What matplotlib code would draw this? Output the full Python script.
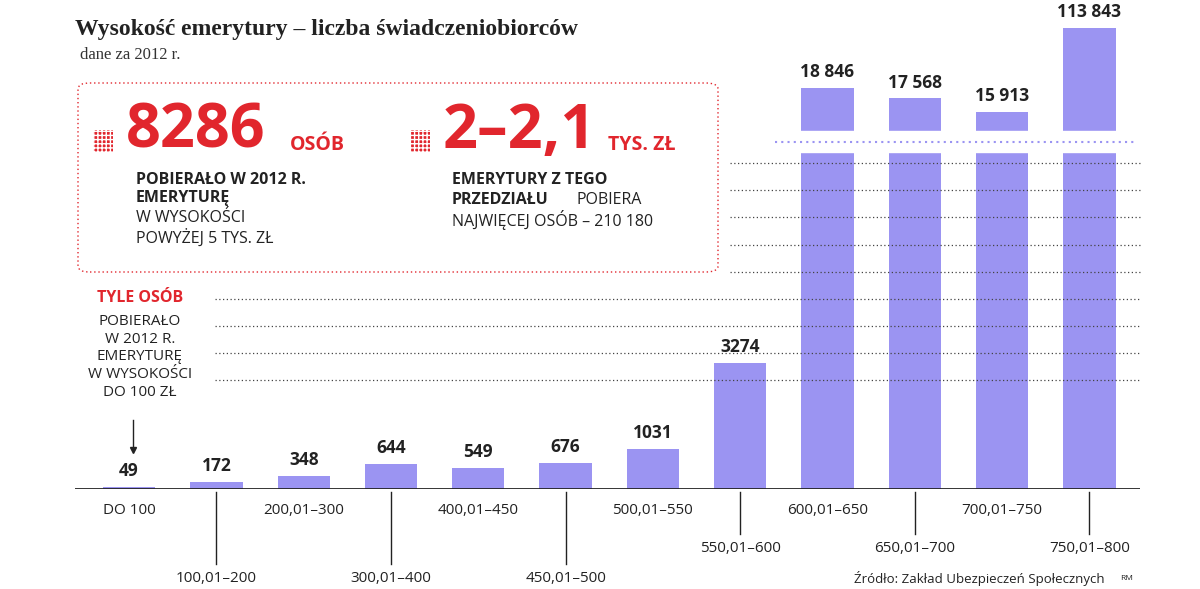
import numpy as np
import matplotlib
matplotlib.use("Agg")
import matplotlib.pyplot as plt
from matplotlib.patches import FancyBboxPatch, Rectangle

categories = ["DO 100", "100,01–200", "200,01–300", "300,01–400", "400,01–450", "450,01–500",
              "500,01–550", "550,01–600", "600,01–650", "650,01–700", "700,01–750", "750,01–800"]
values = [49, 172, 348, 644, 549, 676, 1031, 3274, 18846, 17568, 15913, 113843]
value_labels = ["49", "172", "348", "644", "549", "676", "1031", "3274", "18 846", "17 568", "15 913", "113 843"]
label_rows = [0, 2, 0, 2, 0, 2, 0, 1, 0, 1, 0, 1]  # 0: just below axis, 1: middle, 2: low

W, H = 1200, 589
PURPLE = "#9b94f2"
RED = "#e1262d"
FONT = "Open Sans"

# piecewise scale (broken axis)
_v = np.array([0, 5000, 15913, 18846, 113843, 150000], float)
_p = np.array([0, 192, 377, 401, 461, 489], float)
def fwd(v): return np.interp(v, _v, _p)
def inv(p): return np.interp(p, _p, _v)

fig = plt.figure(figsize=(W / 100, H / 100), dpi=100)
def fx(x): return x / W
def fy(y): return 1 - y / H

ax = fig.add_axes([75 / W, (H - 489) / H, (1140 - 75) / W, 489 / H])
ax.set_yscale("function", functions=(fwd, inv))
ax.set_ylim(0, 150000)
ax.set_xlim(-0.62, 11.58)
ax.axis("off")
x = np.arange(len(values))
ax.bar(x, values, width=0.6, color=PURPLE, zorder=2)
for i, (v, lab) in enumerate(zip(values, value_labels)):
    ax.annotate(lab, (i, v), xytext=(0, 5), textcoords="offset points", ha="center",
                va="bottom", fontsize=12.5, fontweight="bold", family=FONT, color="#222", zorder=5)
ax.axhline(0, color="#222", lw=2, zorder=4)

# dotted grid lines (figure pixel positions)
for yy in [163, 190, 217, 245, 272, 299, 326, 353, 380]:
    x0 = 730 if yy < 280 else 215
    fig.add_artist(plt.Line2D([fx(x0), fx(1140)], [fy(yy), fy(yy)], color="#444",
                              lw=0.9, ls=(0, (1, 2)), zorder=1))
# axis break
fig.add_artist(Rectangle((fx(770), fy(152)), fx(1140) - fx(770), fy(131) - fy(152),
                         color="white", zorder=3))
fig.add_artist(plt.Line2D([fx(775), fx(1135)], [fy(142), fy(142)], color=PURPLE,
                          lw=1.5, ls=(0, (1, 2)), zorder=4))

# category labels
for i, (c, r) in enumerate(zip(categories, label_rows)):
    xd = ax.transData.transform((i, 0))[0]
    if r == 0:
        fig.text(xd / W, fy(510), c, ha="center", va="center", fontsize=11, family=FONT, color="#222")
    else:
        ylab = 578 if r == 2 else 548
        fig.add_artist(plt.Line2D([xd / W, xd / W], [fy(492), fy(ylab - 14)], color="#222", lw=1))
        fig.text(xd / W, fy(ylab), c, ha="center", va="center", fontsize=11, family=FONT, color="#222")

# title
fig.text(fx(75), fy(30), "Wysokość emerytury – liczba świadczeniobiorców", fontsize=17,
         fontweight="bold", family="Liberation Serif", color="#222", va="center")
fig.text(fx(80), fy(55), "dane za 2012 r.", fontsize=12, family="Liberation Serif", color="#333", va="center")

# info box
fig.add_artist(FancyBboxPatch((fx(78), fy(272)), fx(718) - fx(78), fy(83) - fy(272),
                              boxstyle="round,pad=0,rounding_size=0.01", fill=False,
                              ec=RED, lw=1, ls=(0, (1, 2)), zorder=1))
for x0 in [93, 410]:
    fig.add_artist(Rectangle((fx(x0), fy(152)), 20 / W, 22 / H, color=RED, hatch="++++",
                             ec="white", lw=0))
fig.text(fx(126), fy(132), "8286", fontsize=44, fontweight="bold", family=FONT, color=RED, va="center")
fig.text(fx(290), fy(145), "OSÓB", fontsize=14, fontweight="bold", family=FONT, color=RED, va="center")
fig.text(fx(443), fy(132), "2–2,1", fontsize=44, fontweight="bold", family=FONT, color=RED, va="center")
fig.text(fx(608), fy(145), "TYS. ZŁ", fontsize=14, fontweight="bold", family=FONT, color=RED, va="center")
fig.text(fx(136), fy(172), "POBIERAŁO W 2012 R.\nEMERYTURĘ", fontsize=11.5, fontweight="bold",
         family=FONT, color="#222", va="top", linespacing=1.2)
fig.text(fx(136), fy(210), "W WYSOKOŚCI\nPOWYŻEJ 5 TYS. ZŁ", fontsize=11.5, family=FONT,
         color="#222", va="top", linespacing=1.2)
fig.text(fx(452), fy(172), "EMERYTURY Z TEGO", fontsize=11.5, fontweight="bold",
         family=FONT, color="#222", va="top")
fig.text(fx(452), fy(204), "PRZEDZIAŁU", fontsize=11.5, fontweight="bold",
         family=FONT, color="#222", va="baseline")
fig.text(fx(576), fy(204), "POBIERA", fontsize=11.5, family=FONT, color="#222", va="baseline")
fig.text(fx(452), fy(210), "NAJWIĘCEJ OSÓB – 210 180", fontsize=11.5, family=FONT, color="#222", va="top")

# left note
fig.text(fx(140), fy(298), "TYLE OSÓB", fontsize=11.5, fontweight="bold", family=FONT,
         color=RED, ha="center", va="center")
fig.text(fx(140), fy(314), "POBIERAŁO\nW 2012 R.\nEMERYTURĘ\nW WYSOKOŚCI\nDO 100 ZŁ", fontsize=11,
         family=FONT, color="#222", ha="center", va="top", linespacing=1.25)
fig.add_artist(plt.Line2D([fx(133), fx(133)], [fy(420), fy(450)], color="#222", lw=1))
fig.add_artist(plt.Line2D([fx(133)], [fy(450)], marker="v", color="#222", ms=5))

fig.text(fx(1105), fy(578), "Źródło: Zakład Ubezpieczeń Społecznych", fontsize=9.5, family=FONT,
         color="#222", ha="right", va="center")
fig.text(fx(1120), fy(578), "RM", fontsize=6, family=FONT, color="#222", va="center")

fig.savefig("out.png", dpi=100)
